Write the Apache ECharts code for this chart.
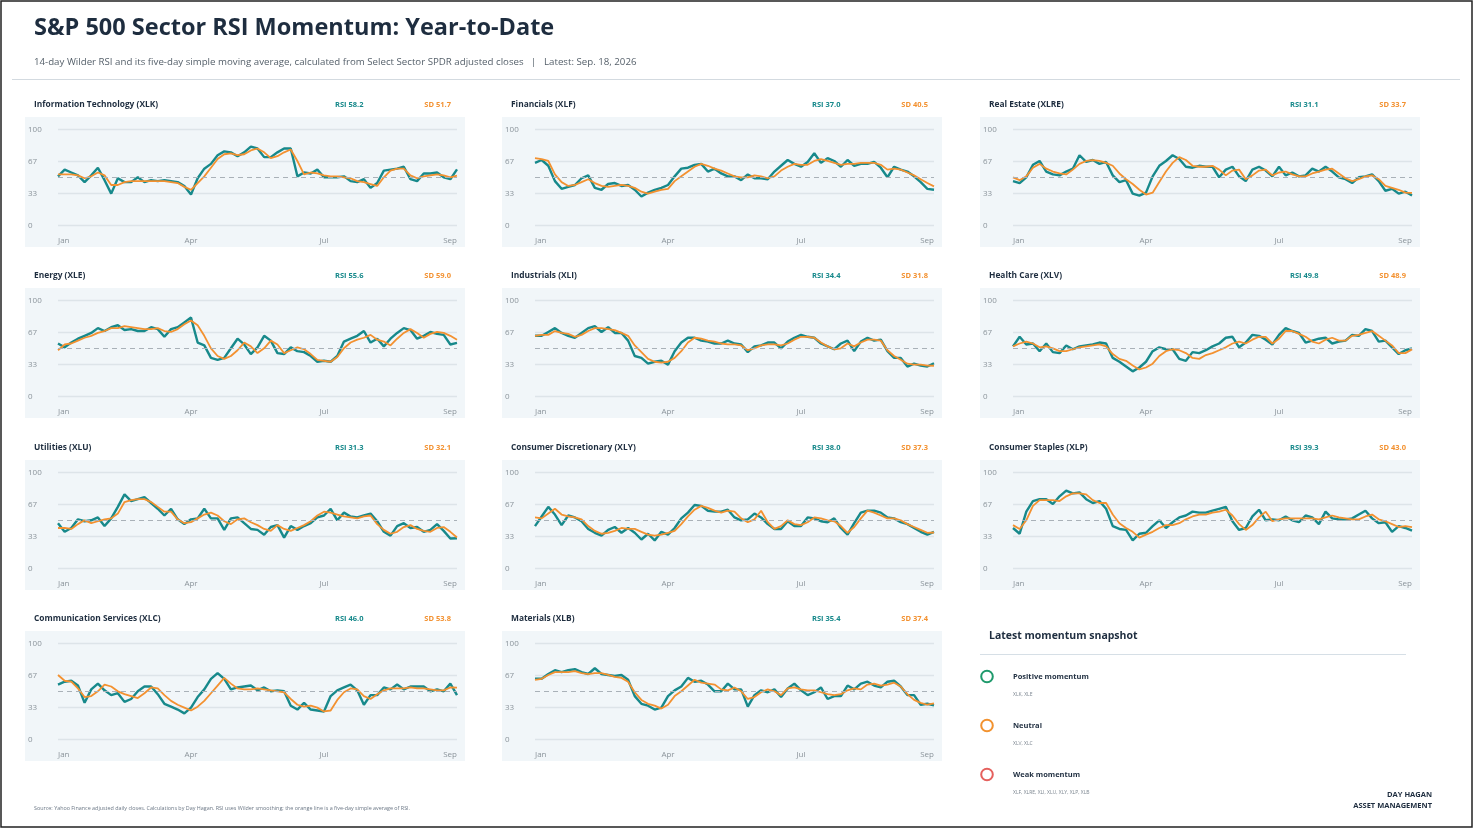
<!DOCTYPE html>
<html>
<head>
<meta charset="utf-8">
<title>S&P 500 Sector RSI Momentum</title>
<script src="https://cdn.jsdelivr.net/npm/echarts@6/dist/echarts.min.js"></script>
<style>
html, body { margin: 0; padding: 0; background: #fff; }
#chart { width: 1473px; height: 828px; }
</style>
</head>
<body>
<div id="chart"></div>
<script>
// x axis: sampled sessions (roughly every third trading day, Jan 2 -> Sep 18)
var monthTicks = ['Jan', 'Apr', 'Jul', 'Sep'];
var tickAt = [0, 20, 40, 60];
var yTicks = [0, 33, 67, 100];

var sectors = ['Information Technology (XLK)', 'Financials (XLF)', 'Real Estate (XLRE)',
    'Energy (XLE)', 'Industrials (XLI)', 'Health Care (XLV)',
    'Utilities (XLU)', 'Consumer Discretionary (XLY)', 'Consumer Staples (XLP)',
    'Communication Services (XLC)', 'Materials (XLB)'];
var latestRsi = [58.2, 37.0, 31.1, 55.6, 34.4, 49.8, 31.3, 38.0, 39.3, 46.0, 35.4];
var latestSd = [51.7, 40.5, 33.7, 59.0, 31.8, 48.9, 32.1, 37.3, 43.0, 53.8, 37.4];

// RSI (teal) and its 5-day average (orange)
var xlkRsi = [51,58,55,52,45,52,60,47,33,49,45,45,50,45,47,46,47,46,45,41,32,49,59,64,73,77,76,72,76,82,80,71,71,76,80,80,51,55,54,58,50,50,50,51,46,45,48,39,44,57,58,59,61,48,46,54,54,55,50,48,58.2];
var xlkSd = [53,53,53,52,49,51,55,52,42,42,45,46,46,46,46,46,46,45,44,40,37,44,51,60,69,74,75,73,74,78,80,76,70,72,76,79,67,53,55,54,52,51,51,50,49,46,45,43,41,50,57,59,59,52,49,51,52,53,52,50,51.7];
var xlfRsi = [65,68,62,46,38,40,42,49,52,39,37,43,44,41,42,37,30,34,37,39,42,51,59,60,63,64,56,59,54,51,51,47,53,49,49,48,56,62,68,64,61,66,75,65,70,67,61,68,62,64,64,66,60,50,61,58,56,51,45,38,37.0];
var xlfSd = [70,69,67,53,45,41,42,45,48,44,41,40,41,42,41,39,35,33,35,37,38,46,51,56,61,64,62,59,57,54,51,50,50,52,51,49,51,57,61,64,63,63,67,69,67,65,63,64,64,65,65,65,63,58,59,58,55,52,48,44,40.5];
var xlreRsi = [46,44,50,63,67,56,53,52,56,59,73,66,68,64,66,52,45,47,33,31,34,51,62,67,73,69,61,60,62,61,61,50,58,61,51,46,58,61,57,51,61,52,55,51,52,59,56,61,56,50,48,44,50,51,53,46,36,38,33,35,31.1];
var xlreSd = [50,47,51,60,64,59,56,54,53,58,64,67,68,67,65,62,54,48,43,37,32,34,45,56,65,71,68,62,61,61,62,58,52,57,58,48,52,57,58,52,55,56,53,51,51,54,56,58,59,54,49,46,48,51,52,48,41,39,37,34,33.7];
var xleRsi = [55,51,56,60,63,66,71,68,72,74,69,70,68,68,72,70,62,70,72,77,82,56,53,40,38,40,50,60,54,44,51,63,58,45,44,51,47,46,42,36,37,36,42,57,60,63,68,56,60,52,60,66,71,69,60,63,67,65,64,54,55.6];
var xleSd = [48,54,55,58,61,63,66,68,71,71,73,72,71,70,70,71,68,67,70,75,79,74,63,50,42,39,42,48,56,52,45,50,58,54,45,48,51,49,44,38,37,36,41,50,56,59,61,64,59,57,53,60,66,70,66,61,65,67,66,63,59.0];
var xliRsi = [63,63,67,71,66,63,61,66,71,73,67,72,66,66,58,42,40,34,36,37,33,47,56,61,61,58,57,55,55,58,55,54,46,52,53,56,56,50,57,61,64,62,61,55,52,49,55,58,47,57,61,58,59,47,40,40,31,34,32,31,34.4];
var xliSd = [63,64,64,68,66,65,62,64,68,71,71,70,69,66,63,53,46,39,36,35,36,40,47,56,61,60,58,57,55,54,54,53,48,50,53,54,54,53,55,59,62,62,61,56,52,49,50,55,52,56,59,59,58,48,42,38,34,33,33,32,31.8];
var xlvRsi = [52,62,54,55,47,55,46,45,53,49,52,53,54,56,55,40,36,31,26,30,36,47,51,49,49,39,37,46,45,48,52,55,61,62,51,56,64,63,59,54,64,71,68,66,56,58,60,61,55,57,58,64,63,70,68,57,58,51,44,48,49.8];
var xlvSd = [52,55,57,55,51,52,50,47,47,49,51,52,53,54,52,44,39,37,32,28,30,34,42,47,49,48,45,40,39,43,45,48,51,55,57,55,59,62,62,55,60,68,68,65,62,57,55,59,61,58,58,63,64,66,68,63,58,53,45,45,48.9];
var xluRsi = [47,38,42,51,49,50,53,44,52,64,77,70,72,74,68,62,55,62,51,46,51,52,62,52,52,40,52,53,47,41,40,35,43,45,32,44,40,44,47,53,55,62,50,58,54,53,55,57,49,38,34,44,47,42,43,38,40,46,39,31,31.3];
var xluSd = [42,42,41,46,50,47,49,51,52,57,69,71,72,72,69,64,59,59,51,47,48,52,56,58,55,49,46,51,52,48,45,41,39,45,41,39,42,45,49,55,59,58,56,54,53,52,54,55,46,40,36,38,43,45,41,39,38,42,43,38,32.1];
var xlyRsi = [44,54,64,56,45,55,53,49,41,37,34,40,43,37,42,37,30,36,29,38,35,42,52,58,66,65,60,59,59,61,53,50,51,57,53,46,41,41,49,44,44,53,52,49,48,52,42,35,47,58,60,60,58,53,52,48,46,42,38,35,38.0];
var xlySd = [53,52,57,62,56,54,53,51,44,39,36,37,39,42,41,41,38,35,34,35,37,39,46,54,61,65,63,60,58,60,59,52,48,51,60,48,41,44,50,46,45,48,53,52,50,49,44,37,43,52,60,58,55,52,52,50,46,43,40,37,37.3];
var xlpRsi = [42,36,59,70,72,72,67,75,81,78,79,72,68,70,62,44,41,40,29,36,37,44,50,42,48,53,55,59,58,58,60,62,64,49,40,42,54,61,50,51,50,54,50,48,55,53,46,59,52,51,51,52,56,60,52,47,48,38,44,42,39.3];
var xlpSd = [45,41,50,65,71,71,71,70,75,78,78,77,71,68,68,56,47,42,38,32,35,38,42,45,45,47,51,54,56,56,58,59,61,55,46,40,45,53,59,49,51,52,52,52,52,52,51,53,55,53,52,51,51,54,56,51,49,46,43,44,43.0];
var xlcRsi = [57,60,61,56,38,52,58,51,46,48,39,42,50,55,55,47,37,34,31,27,33,44,52,63,69,63,52,54,55,56,51,54,50,51,50,35,31,38,31,30,29,45,51,54,57,51,36,46,46,54,52,57,52,55,55,55,50,52,50,58,46.0];
var xlcSd = [67,61,60,53,44,45,50,57,55,50,47,45,43,48,54,53,46,40,36,33,30,34,40,48,56,64,58,53,52,52,53,52,51,50,49,42,36,34,35,33,29,30,41,49,53,52,45,42,47,51,53,53,53,54,53,53,52,51,51,54,53.8];
var xlbRsi = [63,63,68,72,70,72,73,70,68,74,68,67,66,67,62,45,37,35,31,33,45,51,55,64,60,61,57,50,50,58,52,52,34,46,51,49,52,44,53,58,51,46,49,54,42,45,45,56,52,58,60,56,54,60,61,55,46,46,36,37,35.4];
var xlbSd = [62,63,67,70,70,70,71,69,68,69,69,67,65,64,60,49,41,37,35,32,36,45,50,56,62,59,58,57,52,51,54,50,42,44,49,52,50,46,53,54,52,51,51,49,47,46,47,51,53,52,57,58,56,57,59,55,47,41,38,36,37.4];

var rsiSets = [xlkRsi, xlfRsi, xlreRsi, xleRsi, xliRsi, xlvRsi, xluRsi, xlyRsi, xlpRsi, xlcRsi, xlbRsi];
var sdSets = [xlkSd, xlfSd, xlreSd, xleSd, xliSd, xlvSd, xluSd, xlySd, xlpSd, xlcSd, xlbSd];

var momentumGroups = ['Positive momentum', 'Neutral', 'Weak momentum'];
var groupMembers = ['XLK, XLE', 'XLV, XLC', 'XLF, XLRE, XLI, XLU, XLY, XLP, XLB'];
var groupColors = ['#1f9a6c', '#f2922f', '#e5605d'];

var FONT = '"Open Sans", "Noto Sans", sans-serif';
var TEAL = '#17898b';
var ORANGE = '#f39130';
var NAVY = '#1e2d3f';

var sessions = xlkRsi.map(function (v, i) { return String(i); });

var chart = echarts.init(document.getElementById('chart'), null, { renderer: 'canvas' });

var colX = [25, 502, 980];
var rowY = [95, 266, 438, 609];
var grids = [], xAxes = [], yAxes = [], series = [], graphics = [];

//页面框线
graphics.push({ type: 'rect', z: 50, silent: true, shape: { x: 1, y: 1, width: 1471, height: 826 },
    style: { fill: 'none', stroke: '#222', lineWidth: 1.5 } });
//标题
graphics.push({ type: 'text', x: 34, y: 28, style: { text: 'S&P 500 Sector RSI Momentum: Year-to-Date',
    font: 'bold 23.5px ' + FONT, fill: NAVY, verticalAlign: 'middle' } });
graphics.push({ type: 'text', x: 34, y: 62, style: { text: '14-day Wilder RSI and its five-day simple moving average, calculated from Select Sector SPDR adjusted closes   |   Latest: Sep. 18, 2026',
    font: '9.7px ' + FONT, fill: '#56616b', verticalAlign: 'middle' } });
graphics.push({ type: 'line', silent: true, shape: { x1: 12, y1: 79.5, x2: 1460, y2: 79.5 },
    style: { stroke: '#d3dae0', lineWidth: 1 } });

sectors.forEach(function (name, i) {
    var ox = colX[i % 3];
    var oy = rowY[Math.floor(i / 3)];
    //面板背景
    graphics.push({ type: 'rect', z: -10, silent: true, shape: { x: ox, y: oy + 22, width: 440, height: 130 },
        style: { fill: '#f1f6f9' } });
    graphics.push({ type: 'text', x: ox + 9, y: oy + 10, style: { text: name,
        font: 'bold 8.4px ' + FONT, fill: NAVY, verticalAlign: 'middle' } });
    graphics.push({ type: 'text', x: ox + 310, y: oy + 10, style: { text: 'RSI ' + latestRsi[i].toFixed(1),
        font: 'bold 7.5px ' + FONT, fill: TEAL, verticalAlign: 'middle' } });
    graphics.push({ type: 'text', x: ox + 426, y: oy + 10, style: { text: 'SD ' + latestSd[i].toFixed(1),
        font: 'bold 7.5px ' + FONT, fill: ORANGE, verticalAlign: 'middle', align: 'right' } });

    grids.push({ left: ox + 33, top: oy + 34.3, width: 399, height: 96, outerBoundsMode: 'none' });
    xAxes.push({
        gridIndex: i, type: 'category', boundaryGap: false, data: sessions,
        axisLine: { show: false }, axisTick: { show: false }, splitLine: { show: false },
        axisLabel: {
            interval: function (idx) { return tickAt.indexOf(idx) >= 0; },
            formatter: function (v, idx) { var k = tickAt.indexOf(idx); return k >= 0 ? monthTicks[k] : ''; },
            color: '#8b949b', fontSize: 8, fontFamily: FONT, margin: 11,
            alignMinLabel: 'left', alignMaxLabel: 'right'
        }
    });
    yAxes.push({
        gridIndex: i, type: 'value', min: 0, max: 100, interval: 100 / 3,
        axisLine: { show: false }, axisTick: { show: false },
        splitLine: { lineStyle: { color: '#dde4e9', width: 1.3 } },
        axisLabel: {
            align: 'left', margin: 30, color: '#8b949b', fontSize: 8, fontFamily: FONT,
            formatter: function (v) { var r = Math.round(v); return yTicks.indexOf(r) >= 0 ? String(r) : ''; }
        }
    });
    series.push({
        type: 'line', xAxisIndex: i, yAxisIndex: i, data: rsiSets[i], symbol: 'none', silent: true,
        lineStyle: { color: TEAL, width: 2.4 }, itemStyle: { color: TEAL }, z: 3,
        markLine: { silent: true, symbol: 'none', label: { show: false },
            lineStyle: { color: '#a9b1b8', type: [5, 4], width: 1.1 }, data: [{ yAxis: 50 }] }
    });
    series.push({
        type: 'line', xAxisIndex: i, yAxisIndex: i, data: sdSets[i], symbol: 'none', silent: true,
        lineStyle: { color: ORANGE, width: 1.8 }, itemStyle: { color: ORANGE }, z: 4
    });
});

//动量快照
graphics.push({ type: 'text', x: 989, y: 636, style: { text: 'Latest momentum snapshot',
    font: 'bold 10.5px ' + FONT, fill: NAVY, verticalAlign: 'middle' } });
graphics.push({ type: 'line', silent: true, shape: { x1: 980, y1: 654.5, x2: 1406, y2: 654.5 },
    style: { stroke: '#d6dfe6', lineWidth: 1 } });
momentumGroups.forEach(function (g, k) {
    var cy = 676.5 + 49 * k;
    graphics.push({ type: 'circle', silent: true, shape: { cx: 987, cy: cy, r: 5.8 },
        style: { fill: '#fff', stroke: groupColors[k], lineWidth: 2 } });
    graphics.push({ type: 'text', x: 1013, y: cy, style: { text: g,
        font: 'bold 7.5px ' + FONT, fill: NAVY, verticalAlign: 'middle' } });
    graphics.push({ type: 'text', x: 1013, y: cy + 18, style: { text: groupMembers[k],
        font: '5px ' + FONT, fill: '#7d8791', verticalAlign: 'middle' } });
});
graphics.push({ type: 'text', x: 1432, y: 795, style: { text: 'DAY HAGAN',
    font: 'bold 7.5px ' + FONT, fill: NAVY, verticalAlign: 'middle', align: 'right' } });
graphics.push({ type: 'text', x: 1432, y: 806, style: { text: 'ASSET MANAGEMENT',
    font: 'bold 7.5px ' + FONT, fill: NAVY, verticalAlign: 'middle', align: 'right' } });
graphics.push({ type: 'text', x: 34, y: 808, style: { text: 'Source: Yahoo Finance adjusted daily closes. Calculations by Day Hagan. RSI uses Wilder smoothing; the orange line is a five-day simple average of RSI.',
    font: '5.4px ' + FONT, fill: '#6b7785', verticalAlign: 'middle' } });

chart.setOption({
    backgroundColor: '#fff',
    animation: false,
    grid: grids,
    xAxis: xAxes,
    yAxis: yAxes,
    series: series,
    graphic: { elements: graphics }
});
</script>
</body>
</html>
